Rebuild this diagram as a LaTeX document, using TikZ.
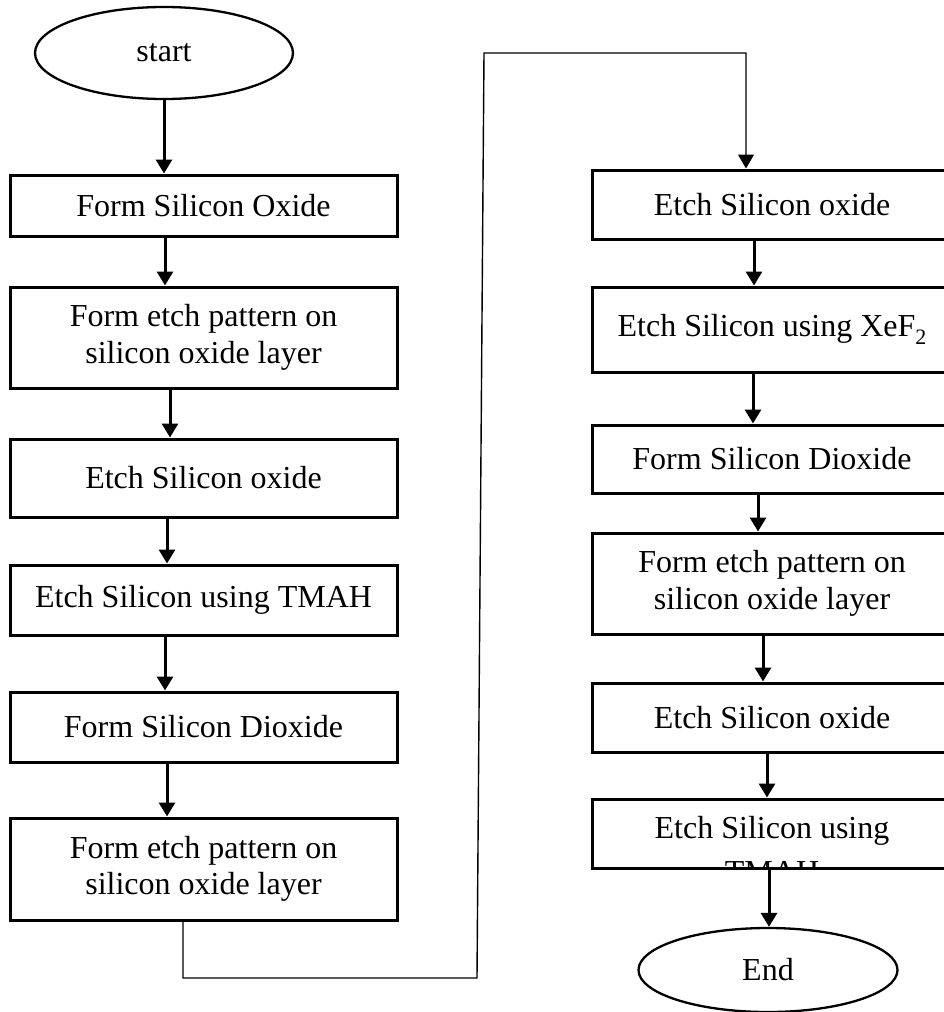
\documentclass[tikz,border=0pt]{standalone}
\usepackage{fontspec}
\setmainfont{Liberation Serif}
\usetikzlibrary{shapes.geometric,arrows.meta}
\newcommand\stepfont{\fontsize{32}{36.5}\selectfont}
\newcommand\lowtwo{\raisebox{-8pt}{\fontsize{22}{22}\selectfont 2}}
\tikzset{
  lbox/.style={draw, line width=3pt, minimum width=387pt, inner sep=0pt,
               align=center, font=\stepfont},
  rbox/.style={draw, line width=3pt, minimum width=360pt, inner sep=0pt,
               align=center, font=\stepfont},
  term/.style={draw, ellipse, line width=2.3pt, inner sep=0pt, font=\stepfont},
  arr/.style={line width=3pt, -{Triangle[length=14pt,width=16pt]}},
  conn/.style={line width=1.4pt, -{Triangle[length=14pt,width=16pt]}}
}
\begin{document}
\begin{tikzpicture}[x=1pt,y=-1pt]
\useasboundingbox (0,0) rectangle (944,1012);
\clip (0,0) rectangle (944,1012);

% left column
\node[term, minimum width=258pt, minimum height=92pt] (s) at (164,53) {start};
\node[lbox, minimum height=61pt]  (b1) at (203.5,205.5) {Form Silicon Oxide};
\node[lbox, minimum height=101pt] (b2) at (203.5,337.5) {Form etch pattern on\\silicon oxide layer};
\node[lbox, minimum height=78pt]  (b3) at (203.5,478)   {Etch Silicon oxide};
\node[lbox, minimum height=70pt]  (b4) at (203.5,600)   {Etch Silicon using TMAH};
\node[lbox, minimum height=70pt]  (b5) at (203.5,727)   {Form Silicon Dioxide};
\node[lbox, minimum height=102pt] (b6) at (203.5,869)   {Form etch pattern on\\silicon oxide layer};

% right column (boxes run past the right edge)
\node[rbox, minimum height=69pt]  (b7)  at (772,204.5) {Etch Silicon oxide};
\node[rbox, minimum height=85pt]  (b8)  at (772,329.5) {Etch Silicon using XeF\lowtwo};
\node[rbox, minimum height=68pt]  (b9)  at (772,459)   {Form Silicon Dioxide};
\node[rbox, minimum height=101pt] (b10) at (772,583.5) {Form etch pattern on\\silicon oxide layer};
\node[rbox, minimum height=69pt]  (b11) at (772,717.5) {Etch Silicon oxide};
\node[rbox, minimum height=69pt]  (b12) at (772,833.5) {};
\begin{scope}
  \clip (b12.north west) rectangle (b12.south east);
  \node[anchor=north, inner sep=0pt, align=center,
        font=\fontsize{32}{44}\selectfont] (t12) at (772,816) {Etch Silicon using\\TMAH};
\end{scope}
\node[term, minimum width=259pt, minimum height=84pt] (e) at (768,970) {End};

% left column arrows
\draw[arr] (s.south) -- ([xshift=-39.5pt]b1.north);
\draw[arr] ([xshift=-38.5pt]b1.south) -- ([xshift=-38.5pt]b2.north);
\draw[arr] ([xshift=-33.5pt]b2.south) -- ([xshift=-33.5pt]b3.north);
\draw[arr] ([xshift=-36.5pt]b3.south) -- ([xshift=-36.5pt]b4.north);
\draw[arr] ([xshift=-38.5pt]b4.south) -- ([xshift=-38.5pt]b5.north);
\draw[arr] ([xshift=-36.5pt]b5.south) -- ([xshift=-36.5pt]b6.north);

% link between the two columns
\coordinate (c1) at (183,978);
\coordinate (c2) at (477,978);
\coordinate (c3) at (484,53);
\coordinate (c4) at (746,53);
\draw[conn] ([xshift=-20.5pt]b6.south) -- (c1) -- (c2) -- (c3) -- (c4)
  -- ([xshift=-26pt]b7.north);

% right column arrows
\draw[arr] ([xshift=-18pt]b7.south) -- ([xshift=-18pt]b8.north);
\draw[arr] ([xshift=-19pt]b8.south) -- ([xshift=-19pt]b9.north);
\draw[arr] ([xshift=-14pt]b9.south) -- ([xshift=-14pt]b10.north);
\draw[arr] ([xshift=-9pt]b10.south) -- ([xshift=-9pt]b11.north);
\draw[arr] ([xshift=-5pt]b11.south) -- ([xshift=-5pt]b12.north);
\draw[arr] ([xshift=-3pt]b12.south) -- ([xshift=1pt]e.north);
\end{tikzpicture}
\end{document}
